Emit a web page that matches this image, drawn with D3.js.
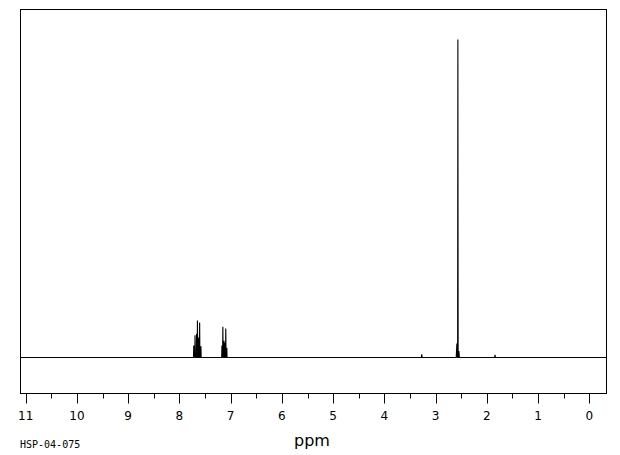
<!DOCTYPE html>
<html><head><meta charset="utf-8">
<script src="https://cdn.jsdelivr.net/npm/d3@7"></script>
<style>html,body{margin:0;padding:0;background:#fff;}svg{display:block;}</style>
</head><body>
<svg id="c" width="620" height="455"></svg>
<script>
// Peak list (ppm, relative intensity, half-width in ppm)
const peakPpm =    [7.72, 7.695, 7.665, 7.648, 7.625, 7.605, 7.58,
                    7.17, 7.152, 7.13, 7.115, 7.095, 7.075,
                    3.27, 2.585, 2.565, 2.545, 1.84];
const peakHeight = [3.8, 7.0, 7.5, 11.6, 6.3, 11.0, 3.5,
                    3.8, 9.7, 5.3, 4.6, 9.1, 3.1,
                    1.0, 4.4, 100, 2.0, 0.8];
const peakWidth =  [0.005, 0.005, 0.005, 0.005, 0.005, 0.005, 0.005,
                    0.005, 0.005, 0.005, 0.005, 0.005, 0.005,
                    0.008, 0.012, 0.005, 0.01, 0.008];
const majorTicks = [11, 10, 9, 8, 7, 6, 5, 4, 3, 2, 1, 0];
const minorTicks = [10.5, 9.5, 8.5, 7.5, 6.5, 5.5, 4.5, 3.5, 2.5, 1.5, 0.5];
const xTitle = "ppm";
const sampleId = "HSP-04-075";

const svg = d3.select("#c");
const x = d3.scaleLinear().domain([11, 0]).range([25.7, 589.3]);
const y = d3.scaleLinear().domain([0, 100]).range([357.5, 39.5]);
const frame = {l: 20, r: 606, t: 9, b: 393};

// frame
svg.append("rect").attr("x", frame.l + 0.5).attr("y", frame.t + 0.5)
  .attr("width", frame.r - frame.l).attr("height", frame.b - frame.t)
  .attr("fill", "none").attr("stroke", "#000").attr("stroke-width", 1);

// spectrum path
const ppmLeft = x.invert(frame.l + 1), ppmRight = x.invert(frame.r);
const idx = d3.range(peakPpm.length).sort((a, b) => peakPpm[b] - peakPpm[a]);
const pts = [[ppmLeft, 0]];
idx.forEach(i => {
  pts.push([peakPpm[i] + peakWidth[i], 0]);
  pts.push([peakPpm[i], peakHeight[i]]);
  pts.push([peakPpm[i] - peakWidth[i], 0]);
});
pts.push([ppmRight, 0]);
svg.append("path").datum(pts)
  .attr("d", d3.line().x(d => x(d[0])).y(d => y(d[1])))
  .attr("fill", "none").attr("stroke", "#000").attr("stroke-width", 1.1);

// axis
const ax = svg.append("g").attr("transform", `translate(0,${frame.b + 0.5})`);
ax.selectAll("line.maj").data(majorTicks).join("line").attr("class", "maj")
  .attr("x1", d => Math.round(x(d)) + 0.5).attr("x2", d => Math.round(x(d)) + 0.5)
  .attr("y1", 0).attr("y2", 10).attr("stroke", "#000");
ax.selectAll("line.min").data(minorTicks).join("line").attr("class", "min")
  .attr("x1", d => Math.round(x(d)) + 0.5).attr("x2", d => Math.round(x(d)) + 0.5)
  .attr("y1", 0).attr("y2", 5).attr("stroke", "#000");
ax.selectAll("text").data(majorTicks).join("text")
  .attr("x", d => x(d)).attr("y", 26).attr("text-anchor", "middle")
  .attr("font-family", "DejaVu Sans").attr("font-size", 12).attr("fill", "#000")
  .text(d => d);

svg.append("text").attr("x", 312).attr("y", 446).attr("text-anchor", "middle")
  .attr("font-family", "DejaVu Sans").attr("font-size", 16).text(xTitle);
svg.append("text").attr("x", 20).attr("y", 448)
  .attr("font-family", "DejaVu Sans Mono").attr("font-size", 10).text(sampleId);
</script>
</body></html>
